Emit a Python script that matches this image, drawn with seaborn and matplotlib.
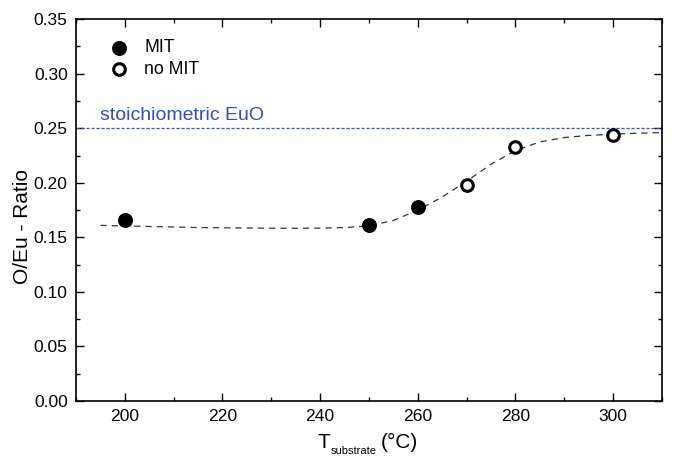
import matplotlib.pyplot as plt
import numpy as np
import pandas as pd
import seaborn as sns

# measured points
t_mit = [200, 250, 260]
r_mit = [0.1655, 0.161, 0.178]
t_nomit = [270, 280, 300]
r_nomit = [0.198, 0.233, 0.2443]

# dashed guide curve
t_fit = [195, 200, 205, 210, 215, 220, 225, 230, 235, 240, 245, 250, 255, 260,
         265, 270, 275, 280, 285, 290, 295, 300, 305, 310]
r_fit = [0.161, 0.1605, 0.160, 0.1595, 0.159, 0.1588, 0.1586, 0.1584, 0.1584, 0.1585,
         0.159, 0.1605, 0.1655, 0.175, 0.187, 0.2015, 0.217, 0.2295, 0.2375, 0.2415,
         0.2435, 0.2445, 0.2455, 0.246]

stoich = 0.25

sns.set_style("ticks")
plt.rcParams['font.family'] = ['Liberation Sans', 'DejaVu Sans']
plt.rcParams['text.color'] = 'black'
plt.rcParams['axes.labelcolor'] = 'black'

fig = plt.figure(figsize=(6.74, 4.57), dpi=100)
ax = fig.add_axes([0.1128, 0.1225, 0.8692, 0.8355])

df_fit = pd.DataFrame({'T': t_fit, 'R': r_fit})
sns.lineplot(data=df_fit, x='T', y='R', ax=ax, color='#333333', lw=0.9,
             linestyle=(0, (5, 4)), zorder=2)

ax.axhline(stoich, color='#3a55b4', lw=0.9, ls=(0, (2.5, 1.5)), zorder=1)
ax.text(195, 0.2573, 'stoichiometric EuO', color='#3a4fa8', fontsize=14,
        va='baseline', ha='left')

sns.scatterplot(x=t_mit, y=r_mit, ax=ax, s=95, color='black', edgecolor='black',
                linewidth=1, label='MIT', zorder=3)
sns.scatterplot(x=t_nomit, y=r_nomit, ax=ax, s=70, color='white', edgecolor='black',
                linewidth=2.2, label='no MIT', zorder=3)

ax.set_xlim(190, 310)
ax.set_ylim(0, 0.35)
ax.set_xticks(np.arange(200, 301, 20))
ax.set_xticks(np.arange(190, 311, 10), minor=True)
ax.set_yticks(np.arange(0, 0.351, 0.05))
ax.set_yticks(np.arange(0, 0.351, 0.025), minor=True)
ax.set_yticklabels([f'{v:.2f}' for v in np.arange(0, 0.351, 0.05)])
ax.tick_params(which='both', direction='in', top=True, right=True, labelsize=12.6,
               width=1, colors='black')
ax.tick_params(which='major', length=5.5)
ax.tick_params(which='minor', length=3)
ax.tick_params(axis='x', pad=6)
ax.tick_params(axis='y', pad=6)
for s in ax.spines.values():
    s.set_linewidth(1.2)
    s.set_color('black')

ax.set_xlabel('')
ax.set_ylabel('O/Eu - Ratio', fontsize=15)
ax.yaxis.set_label_coords(-0.075, 0.458)

# x label built from pieces so the subscript can be small
t1 = fig.text(0.471, 0.0197, 'T', fontsize=15, ha='left', va='baseline')
t2 = ax.annotate('substrate', xy=(1, 0), xycoords=t1, xytext=(0.5, -3),
                 textcoords='offset points', fontsize=8, ha='left', va='bottom',
                 annotation_clip=False)
ax.annotate('(°C)', xy=(1, 0), xycoords=(t2, t1), xytext=(3, 0),
            textcoords='offset points', fontsize=15, ha='left', va='bottom',
            annotation_clip=False)

leg = ax.legend(loc='upper left', bbox_to_anchor=(0.025, 0.975), frameon=False,
                fontsize=12.7, handletextpad=0.45, labelspacing=0.25,
                borderaxespad=0.2)

fig.savefig('out.png', dpi=100)
